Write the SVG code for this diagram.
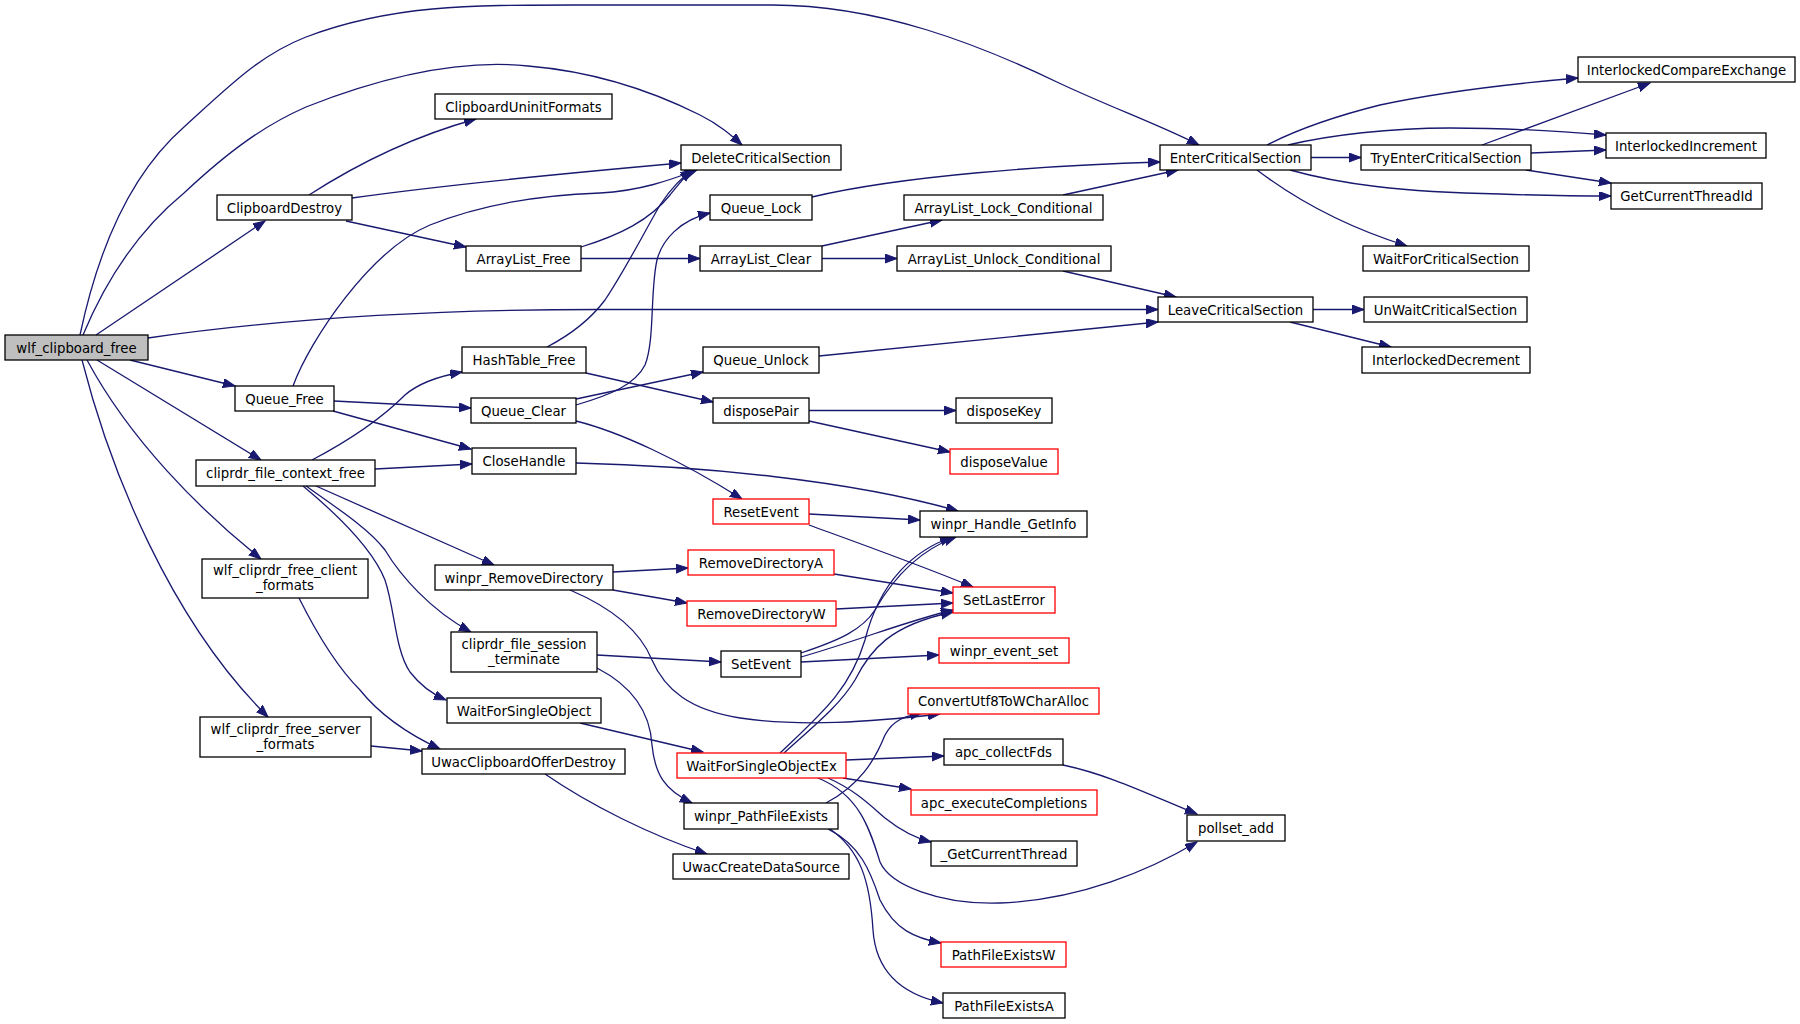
<svg xmlns="http://www.w3.org/2000/svg" width="1800" height="1024" viewBox="0 0 1800 1024">
<style>
.n rect{fill:#fff;stroke:#000;stroke-width:1.3}
.r rect{stroke:#ff0000}
.root rect{fill:#bfbfbf}
text{font-family:"DejaVu Sans","Liberation Sans",sans-serif;font-size:13.3px;fill:#000;text-anchor:middle}
#edges path{fill:none;stroke:#191970;stroke-width:1.3;marker-end:url(#ah)}
</style>
<defs>
<marker id="ah" markerUnits="userSpaceOnUse" markerWidth="13" markerHeight="10" refX="12" refY="4.5" orient="auto">
<path d="M0,0 L12,4.5 L0,9 z" fill="#191970" stroke="#191970" stroke-width="1"/>
</marker>
</defs>
<rect width="1800" height="1024" fill="#fff"/>
<g id="edges">
<path d="M80,335 C100,240 135,170 184,127 C230,85 260,55 306,37 C390,5 470,5 574,5 L772,5 C880,5 980,45 1059,83 C1110,107 1160,125 1199,145"/>
<path d="M83,335 C110,270 145,225 184,193 C230,150 265,125 306,107 C400,70 470,60 528,66 C600,72 660,95 700,115 C720,125 732,136 742,145"/>
<path d="M96,335 L265,221"/>
<path d="M148,338 C300,316 450,309.5 600,309.5 L1158,309.5"/>
<path d="M130,360 L235,386"/>
<path d="M97,360 L261,460"/>
<path d="M87,360 C130,440 200,510 261,559"/>
<path d="M82,360 C110,470 170,620 268,717"/>
<path d="M309,195 C340,175 400,140 476,119"/>
<path d="M352,198 C450,184 580,172 681,163"/>
<path d="M346,221 L466,247"/>
<path d="M581,247 C620,235 650,220 670,195 C678,185 685,176 692,170"/>
<path d="M581,258.5 L700,258.5"/>
<path d="M293,386 C310,340 370,250 430,225 C480,205 540,195 600,193 C640,191 670,180 697,170"/>
<path d="M334,401 L471,408"/>
<path d="M333,411 L471,449"/>
<path d="M312,460 C350,440 380,420 405,395 C420,382 440,376 462,372"/>
<path d="M375,469 L472,464"/>
<path d="M316,486 L494,565"/>
<path d="M306,486 C340,510 370,530 385,550 C400,575 430,610 471,632"/>
<path d="M303,486 C350,525 375,555 385,580 C395,610 395,650 410,672 C420,685 432,694 446,700"/>
<path d="M299,598 C320,640 340,670 360,690 C380,715 410,735 440,749"/>
<path d="M371,746 L422,751"/>
<path d="M547,347 C570,335 590,320 605,300 C625,270 640,240 660,205 C670,190 680,178 693,170"/>
<path d="M586,373 L713,402"/>
<path d="M576,405 C610,395 635,385 645,365 C655,340 650,290 657,260 C662,240 680,220 710,213"/>
<path d="M576,399 L703,372"/>
<path d="M576,421 C620,432 680,460 742,499"/>
<path d="M576,463 C700,466 850,480 958,511"/>
<path d="M822,246 L942,220"/>
<path d="M822,258.5 L897,258.5"/>
<path d="M812,197 C900,176 1050,165 1160,162"/>
<path d="M1063,195 L1178,170"/>
<path d="M1063,271 L1176,297"/>
<path d="M819,356 L1158,322"/>
<path d="M1267,145 C1300,128 1340,115 1380,105 C1450,90 1520,83 1578,78"/>
<path d="M1288,145 C1330,135 1390,128 1450,128 C1510,128 1570,132 1606,135"/>
<path d="M1311,157.5 L1361,157.5"/>
<path d="M1290,170 C1340,184 1400,192 1500,194 C1560,196 1590,196 1611,196"/>
<path d="M1257,170 C1290,195 1340,225 1407,246"/>
<path d="M1482,145 L1650,83"/>
<path d="M1531,153 L1606,150"/>
<path d="M1526,170 L1611,183"/>
<path d="M1313,309.5 L1364,309.5"/>
<path d="M1290,322 L1391,347"/>
<path d="M809,410.5 L956,410.5"/>
<path d="M809,421 L950,452"/>
<path d="M809,514 L920,520"/>
<path d="M809,525 C850,540 920,565 973,587"/>
<path d="M613,572 L688,568"/>
<path d="M613,590 L687,603"/>
<path d="M570,590 C610,607 640,630 652,660 C665,690 690,710 740,718 C800,727 870,722 940,714"/>
<path d="M834,574 L953,593"/>
<path d="M836,609 L953,603"/>
<path d="M597,655 L721,662"/>
<path d="M597,668 C630,685 650,710 652,745 C655,775 665,790 692,803"/>
<path d="M801,653 C840,640 862,630 875,610 C895,575 920,550 956,537"/>
<path d="M801,657 C860,640 910,620 953,610"/>
<path d="M801,662 L939,655"/>
<path d="M580,723 L703,752"/>
<path d="M545,774 C590,805 650,835 707,854"/>
<path d="M780,753 C820,715 850,690 865,640 C880,580 915,550 952,537"/>
<path d="M784,753 C815,725 840,705 855,680 C870,650 890,625 953,612"/>
<path d="M826,803 C860,785 875,760 885,735 C893,720 905,716 922,713"/>
<path d="M846,760 L944,756"/>
<path d="M843,778 L911,789"/>
<path d="M828,778 C855,790 870,805 885,818 C900,830 915,838 931,842"/>
<path d="M818,778 C860,795 870,830 880,862 C890,885 940,905 1000,903 C1080,900 1150,870 1197,842"/>
<path d="M1063,765 C1110,775 1150,795 1197,814"/>
<path d="M828,829 C860,845 870,870 880,900 C895,930 915,938 941,943"/>
<path d="M830,829 C860,850 870,880 873,930 C876,975 905,995 943,1003"/>
</g>
<g id="n1" class="n root"><rect x="5" y="335" width="143" height="25"/><text x="76.5" y="352.5">wlf_clipboard_free</text></g>
<g id="n2" class="n"><rect x="435" y="94" width="177" height="25"/><text x="523.5" y="111.5">ClipboardUninitFormats</text></g>
<g id="n3" class="n"><rect x="217" y="195" width="135" height="25"/><text x="284.5" y="212.5">ClipboardDestroy</text></g>
<g id="n4" class="n"><rect x="466" y="246" width="115" height="25"/><text x="523.5" y="263.5">ArrayList_Free</text></g>
<g id="n5" class="n"><rect x="681" y="145" width="160" height="25"/><text x="761" y="162.5">DeleteCriticalSection</text></g>
<g id="n6" class="n"><rect x="710" y="195" width="102" height="25"/><text x="761" y="212.5">Queue_Lock</text></g>
<g id="n7" class="n"><rect x="904" y="195" width="199" height="25"/><text x="1003.5" y="212.5">ArrayList_Lock_Conditional</text></g>
<g id="n8" class="n"><rect x="700" y="246" width="122" height="25"/><text x="761" y="263.5">ArrayList_Clear</text></g>
<g id="n9" class="n"><rect x="897" y="246" width="214" height="25"/><text x="1004" y="263.5">ArrayList_Unlock_Conditional</text></g>
<g id="n10" class="n"><rect x="1160" y="145" width="151" height="25"/><text x="1235.5" y="162.5">EnterCriticalSection</text></g>
<g id="n11" class="n"><rect x="1158" y="297" width="155" height="25"/><text x="1235.5" y="314.5">LeaveCriticalSection</text></g>
<g id="n12" class="n"><rect x="1578" y="57" width="217" height="25"/><text x="1686.5" y="74.5">InterlockedCompareExchange</text></g>
<g id="n13" class="n"><rect x="1606" y="133" width="160" height="25"/><text x="1686" y="150.5">InterlockedIncrement</text></g>
<g id="n14" class="n"><rect x="1361" y="145" width="170" height="25"/><text x="1446" y="162.5">TryEnterCriticalSection</text></g>
<g id="n15" class="n"><rect x="1611" y="183" width="151" height="26"/><text x="1686.5" y="200.5">GetCurrentThreadId</text></g>
<g id="n16" class="n"><rect x="1363" y="246" width="166" height="25"/><text x="1446" y="263.5">WaitForCriticalSection</text></g>
<g id="n17" class="n"><rect x="1364" y="297" width="163" height="25"/><text x="1445.5" y="314.5">UnWaitCriticalSection</text></g>
<g id="n18" class="n"><rect x="1362" y="347" width="168" height="26"/><text x="1446" y="365">InterlockedDecrement</text></g>
<g id="n19" class="n"><rect x="235" y="386" width="99" height="25"/><text x="284.5" y="403.5">Queue_Free</text></g>
<g id="n20" class="n"><rect x="462" y="347" width="124" height="26"/><text x="524" y="365">HashTable_Free</text></g>
<g id="n21" class="n"><rect x="471" y="398" width="105" height="25"/><text x="523.5" y="415.5">Queue_Clear</text></g>
<g id="n22" class="n"><rect x="472" y="448" width="104" height="26"/><text x="524" y="466">CloseHandle</text></g>
<g id="n23" class="n"><rect x="196" y="460" width="179" height="26"/><text x="285.5" y="478">cliprdr_file_context_free</text></g>
<g id="n24" class="n"><rect x="202" y="559" width="166" height="39"/><text x="285" y="575">wlf_cliprdr_free_client</text><text x="285" y="590">_formats</text></g>
<g id="n25" class="n"><rect x="435" y="565" width="178" height="25"/><text x="524" y="582.5">winpr_RemoveDirectory</text></g>
<g id="n26" class="n"><rect x="451" y="632" width="146" height="40"/><text x="524" y="648.5">cliprdr_file_session</text><text x="524" y="663.5">_terminate</text></g>
<g id="n27" class="n"><rect x="703" y="347" width="116" height="26"/><text x="761" y="365">Queue_Unlock</text></g>
<g id="n28" class="n"><rect x="713" y="398" width="96" height="25"/><text x="761" y="415.5">disposePair</text></g>
<g id="n29" class="n"><rect x="956" y="398" width="96" height="25"/><text x="1004" y="415.5">disposeKey</text></g>
<g id="n30" class="n r"><rect x="950" y="449" width="108" height="25"/><text x="1004" y="466.5">disposeValue</text></g>
<g id="n31" class="n r"><rect x="713" y="499" width="96" height="25"/><text x="761" y="516.5">ResetEvent</text></g>
<g id="n32" class="n"><rect x="920" y="511" width="167" height="26"/><text x="1003.5" y="529">winpr_Handle_GetInfo</text></g>
<g id="n33" class="n r"><rect x="688" y="550" width="146" height="25"/><text x="761" y="567.5">RemoveDirectoryA</text></g>
<g id="n34" class="n r"><rect x="687" y="601" width="149" height="25"/><text x="761.5" y="618.5">RemoveDirectoryW</text></g>
<g id="n35" class="n r"><rect x="953" y="587" width="102" height="26"/><text x="1004" y="605">SetLastError</text></g>
<g id="n36" class="n"><rect x="721" y="651" width="80" height="26"/><text x="761" y="669">SetEvent</text></g>
<g id="n37" class="n r"><rect x="939" y="638" width="130" height="25"/><text x="1004" y="655.5">winpr_event_set</text></g>
<g id="n38" class="n"><rect x="200" y="717" width="171" height="40"/><text x="285.5" y="733.5">wlf_cliprdr_free_server</text><text x="285.5" y="748.5">_formats</text></g>
<g id="n39" class="n"><rect x="447" y="698" width="154" height="25"/><text x="524" y="715.5">WaitForSingleObject</text></g>
<g id="n40" class="n"><rect x="422" y="749" width="203" height="25"/><text x="523.5" y="766.5">UwacClipboardOfferDestroy</text></g>
<g id="n41" class="n r"><rect x="908" y="688" width="191" height="26"/><text x="1003.5" y="706">ConvertUtf8ToWCharAlloc</text></g>
<g id="n42" class="n"><rect x="944" y="739" width="119" height="26"/><text x="1003.5" y="757">apc_collectFds</text></g>
<g id="n43" class="n r"><rect x="677" y="753" width="169" height="25"/><text x="761.5" y="770.5">WaitForSingleObjectEx</text></g>
<g id="n44" class="n r"><rect x="911" y="790" width="186" height="25"/><text x="1004" y="807.5">apc_executeCompletions</text></g>
<g id="n45" class="n"><rect x="684" y="803" width="154" height="26"/><text x="761" y="821">winpr_PathFileExists</text></g>
<g id="n46" class="n"><rect x="931" y="841" width="146" height="25"/><text x="1004" y="858.5">_GetCurrentThread</text></g>
<g id="n47" class="n"><rect x="673" y="854" width="176" height="25"/><text x="761" y="871.5">UwacCreateDataSource</text></g>
<g id="n48" class="n r"><rect x="941" y="942" width="125" height="25"/><text x="1003.5" y="959.5">PathFileExistsW</text></g>
<g id="n49" class="n"><rect x="943" y="993" width="122" height="25"/><text x="1004" y="1010.5">PathFileExistsA</text></g>
<g id="n50" class="n"><rect x="1187" y="815" width="98" height="26"/><text x="1236" y="833">pollset_add</text></g>
</svg>
